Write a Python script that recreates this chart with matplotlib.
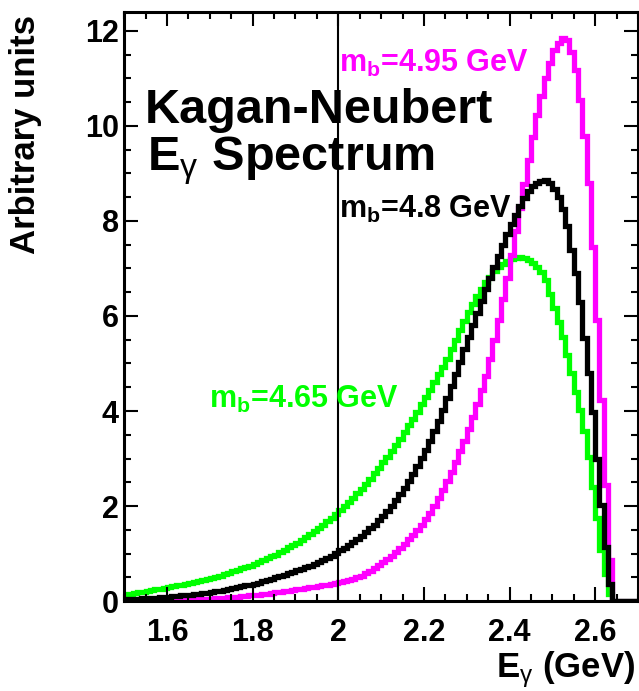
import matplotlib.pyplot as plt
import numpy as np
from matplotlib.ticker import MultipleLocator, FuncFormatter

plt.rcParams['font.family'] = ['Liberation Sans', 'DejaVu Sans']
plt.rcParams['font.weight'] = 'bold'
plt.rcParams['axes.labelweight'] = 'bold'
plt.rcParams['mathtext.fontset'] = 'custom'
plt.rcParams['mathtext.rm'] = 'Liberation Sans:normal'
plt.rcParams['mathtext.it'] = 'Liberation Sans:bold'
plt.rcParams['mathtext.bf'] = 'Liberation Sans:bold'

# 120 bins of 0.01 GeV from 1.5 to 2.7
edges = np.linspace(1.5, 2.7, 121)

# mb = 4.95 GeV
pink = [0.00, 0.00, 0.00, 0.00, 0.01, 0.01, 0.01, 0.01, 0.01, 0.01,
        0.02, 0.02, 0.02, 0.02, 0.03, 0.03, 0.03, 0.04, 0.04, 0.05,
        0.05, 0.06, 0.06, 0.07, 0.08, 0.09, 0.09, 0.10, 0.11, 0.12,
        0.13, 0.14, 0.15, 0.16, 0.17, 0.19, 0.20, 0.21, 0.22, 0.23,
        0.25, 0.26, 0.27, 0.29, 0.30, 0.32, 0.34, 0.35, 0.37, 0.38,
        0.40, 0.42, 0.44, 0.47, 0.50, 0.54, 0.59, 0.64, 0.70, 0.76,
        0.82, 0.89, 0.96, 1.04, 1.12, 1.21, 1.30, 1.40, 1.50, 1.61,
        1.73, 1.86, 2.00, 2.16, 2.33, 2.52, 2.72, 2.93, 3.15, 3.38,
        3.62, 3.88, 4.15, 4.44, 4.74, 5.10, 5.50, 5.92, 6.35, 6.80,
        7.28, 7.78, 8.28, 8.78, 9.28, 9.76, 10.22, 10.62, 11.00, 11.32,
        11.60, 11.74, 11.85, 11.81, 11.56, 11.18, 10.55, 9.78, 8.79, 7.46,
        5.92, 4.23, 2.44, 0.86, 0, 0, 0, 0, 0, 0]

# mb = 4.8 GeV
black = [0.04, 0.05, 0.05, 0.05, 0.06, 0.06, 0.07, 0.07, 0.08, 0.08,
         0.09, 0.10, 0.11, 0.12, 0.13, 0.14, 0.15, 0.16, 0.17, 0.18,
         0.19, 0.21, 0.22, 0.24, 0.25, 0.27, 0.29, 0.31, 0.33, 0.35,
         0.37, 0.39, 0.42, 0.44, 0.47, 0.50, 0.53, 0.56, 0.59, 0.62,
         0.65, 0.68, 0.71, 0.74, 0.78, 0.82, 0.87, 0.91, 0.96, 1.01,
         1.07, 1.12, 1.18, 1.24, 1.31, 1.38, 1.45, 1.53, 1.61, 1.70,
         1.80, 1.90, 2.01, 2.13, 2.26, 2.39, 2.53, 2.68, 2.84, 3.01,
         3.19, 3.38, 3.58, 3.80, 4.03, 4.28, 4.53, 4.78, 5.04, 5.30,
         5.56, 5.82, 6.07, 6.32, 6.56, 6.80, 7.04, 7.27, 7.50, 7.72,
         7.93, 8.13, 8.32, 8.48, 8.62, 8.73, 8.80, 8.84, 8.86, 8.80,
         8.68, 8.50, 8.25, 7.90, 7.39, 6.90, 6.30, 5.53, 4.80, 3.99,
         3.00, 2.02, 1.14, 0.37, 0, 0, 0, 0, 0, 0]

# mb = 4.65 GeV
green = [0.15, 0.16, 0.18, 0.19, 0.20, 0.22, 0.23, 0.25, 0.26, 0.28,
         0.29, 0.31, 0.33, 0.35, 0.37, 0.39, 0.41, 0.43, 0.45, 0.47,
         0.49, 0.51, 0.54, 0.57, 0.60, 0.63, 0.66, 0.69, 0.72, 0.75,
         0.78, 0.82, 0.86, 0.90, 0.94, 0.98, 1.03, 1.08, 1.13, 1.18,
         1.23, 1.29, 1.35, 1.41, 1.48, 1.54, 1.61, 1.68, 1.76, 1.84,
         1.92, 2.00, 2.09, 2.18, 2.27, 2.37, 2.47, 2.58, 2.69, 2.80,
         2.92, 3.04, 3.16, 3.29, 3.42, 3.56, 3.70, 3.84, 3.99, 4.14,
         4.29, 4.45, 4.61, 4.77, 4.93, 5.10, 5.30, 5.50, 5.70, 5.90,
         6.08, 6.26, 6.42, 6.57, 6.71, 6.83, 6.94, 7.03, 7.10, 7.15,
         7.19, 7.22, 7.23, 7.22, 7.18, 7.12, 7.03, 6.92, 6.75, 6.47,
         6.17, 5.88, 5.55, 5.18, 4.79, 4.39, 4.02, 3.58, 3.04, 2.41,
         1.74, 1.07, 0.58, 0.16, 0, 0, 0, 0, 0, 0]

fig = plt.figure(figsize=(6.39, 6.91), dpi=100)
ax = fig.add_axes([0.1945, 0.130, 0.8038, 0.853])

ax.stairs(green, edges, color='#00ff00', lw=3.8)
ax.stairs(pink, edges, color='#ff00ff', lw=3.8)
ax.stairs(black, edges, color='black', lw=3.8)
ax.axvline(2.0, color='black', lw=1.5)

ax.set_xlim(1.5, 2.7)
ax.set_ylim(0, 12.4)
ax.xaxis.set_major_locator(MultipleLocator(0.2))
ax.xaxis.set_minor_locator(MultipleLocator(0.05))
ax.yaxis.set_major_locator(MultipleLocator(2))
ax.yaxis.set_minor_locator(MultipleLocator(0.5))
ax.xaxis.set_major_formatter(FuncFormatter(lambda v, p: '%g' % round(v, 2)))
ax.tick_params(which='both', direction='in', top=True, right=True, width=1.5)
ax.tick_params(which='major', length=10, labelsize=22)
ax.tick_params(axis='x', which='major', pad=12)
ax.tick_params(axis='y', which='major', pad=4)
ax.tick_params(which='minor', length=5)
for s in ax.spines.values():
    s.set_linewidth(2.2)

ax.text(1.548, 10.06, 'Kagan-Neubert', fontsize=35)
ax.text(1.552, 9.07, r'E$_{\mathrm{\gamma}}$ Spectrum', fontsize=35)
ax.text(2.002, 11.14, r'm$_b$=4.95 GeV', color='#ff00ff', fontsize=22)
ax.text(2.002, 8.06, r'm$_b$=4.8 GeV', color='black', fontsize=22)
ax.text(1.698, 4.06, r'm$_b$=4.65 GeV', color='#00ff00', fontsize=22)

ax.set_xlabel(r'E$_{\mathrm{\gamma}}$ (GeV)', fontsize=25, loc='right')
ax.xaxis.set_label_coords(0.994, -0.082)
ax.set_ylabel('Arbitrary units', fontsize=25, loc='top')
ax.yaxis.set_label_coords(-0.16, 0.994)

fig.savefig('out.png', dpi=100)
